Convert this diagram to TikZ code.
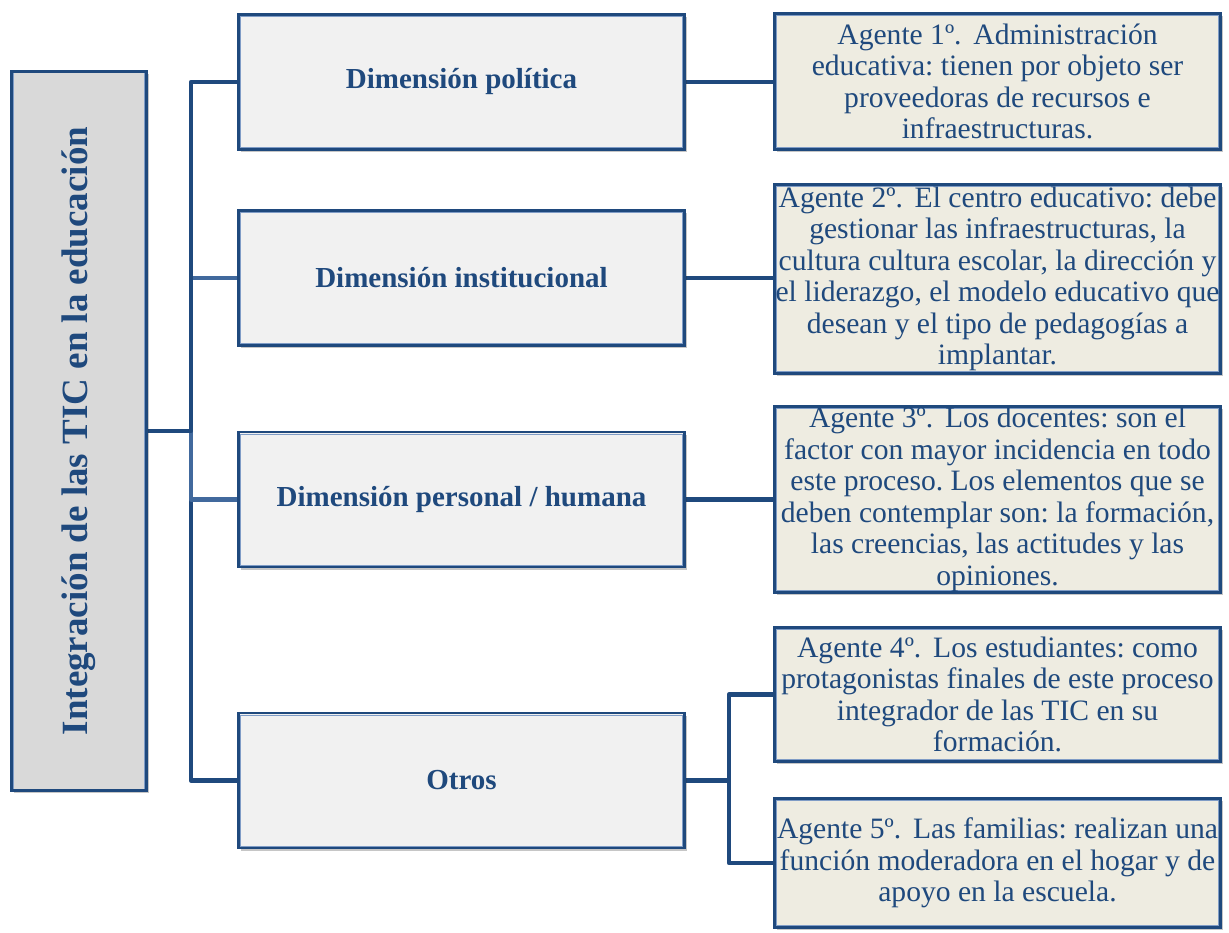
\documentclass[tikz,border=0pt]{standalone}
\usepackage{fontspec}
\setmainfont{Liberation Serif}
\usetikzlibrary{shadows}
\definecolor{dkblue}{HTML}{1F497D}
\definecolor{midblue}{HTML}{41699D}
\definecolor{innerline}{HTML}{7F9CC6}
\definecolor{rootfill}{HTML}{D9D9D9}
\definecolor{dimfill}{HTML}{F1F1F1}
\definecolor{agentfill}{HTML}{EEECE1}
\pgfdeclarelayer{bg}
\pgfsetlayers{bg,main}
\frenchspacing
\newcommand{\ordgap}{\hspace{0.4em}}
\begin{document}
\begin{tikzpicture}[x=1pt,y=-1pt,
  box/.style={draw=dkblue, line width=2.6pt, inner sep=0pt, text=dkblue,
    drop shadow={shadow xshift=2pt, shadow yshift=-2.5pt, opacity=0.28, fill=black!80},
    path picture={\draw[innerline, line width=0.9pt]
      ([shift={(2pt,-2pt)}]path picture bounding box.north west) rectangle
      ([shift={(-2pt,2pt)}]path picture bounding box.south east);}},
  rootbox/.style={box, fill=rootfill, minimum width=719pt, minimum height=135pt,
    font=\bfseries\fontsize{37}{40}\selectfont},
  dimbox/.style={box, fill=dimfill, minimum width=446pt, minimum height=135pt,
    font=\bfseries\fontsize{29}{32}\selectfont},
  agentbox/.style={box, fill=agentfill, minimum width=446pt,
    align=center, font=\fontsize{29.6}{31.5}\selectfont},
  conn/.style={draw=dkblue, line width=4.5pt, line join=round},
  connlt/.style={conn, draw=midblue}]

\useasboundingbox (0,0) rectangle (1229,933);

% root, rotated so that its text reads upwards
\node[rootbox, rotate=90] (root) at (79,431) {Integración de las TIC en la educación};

% dimensions
\node[dimbox] (d1) at (461.5,82) {Dimensión política};
\node[dimbox] (d2) at (461.5,278) {Dimensión institucional};
\node[dimbox] (d3) at (461.5,499.5) {Dimensión personal / humana};
\node[dimbox] (d4) at (461.5,780.5) {Otros};

% agents
\node[agentbox, minimum height=136pt] (a1) at (997.5,81.5)
  {Agente 1º.\ordgap Administración\\educativa: tienen por objeto ser\\proveedoras de recursos e\\infraestructuras.};
\node[agentbox, minimum height=189pt] (a2) at (997.5,279)
  {Agente 2º.\ordgap El centro educativo: debe\\gestionar las infraestructuras, la\\cultura cultura escolar, la dirección y\\el liderazgo, el modelo educativo que\\desean y el tipo de pedagogías a\\implantar.};
\node[agentbox, minimum height=186pt] (a3) at (997.5,499.5)
  {Agente 3º.\ordgap Los docentes: son el\\factor con mayor incidencia en todo\\este proceso. Los elementos que se\\deben contemplar son: la formación,\\las creencias, las actitudes y las\\opiniones.};
\node[agentbox, minimum height=134pt] (a4) at (997.5,694.5)
  {Agente 4º.\ordgap Los estudiantes: como\\protagonistas finales de este proceso\\integrador de las TIC en su\\formación.};
\node[agentbox, minimum height=129pt] (a5) at (997.5,863)
  {Agente 5º.\ordgap Las familias: realizan una\\función moderadora en el hogar y de\\apoyo en la escuela.};

% connectors (the root's south side faces right after rotation)
\coordinate (tk) at (191,431);
\coordinate (tk2) at (729,780);
\begin{pgfonlayer}{bg}
  \draw[conn] (root.south) -- (root.south -| tk) |- (d4.west);
  \draw[connlt] (root.south -| tk) |- (d3.west);
  \draw[connlt] (root.south -| tk) |- (d2.west);
  \draw[conn] (root.south) -- (root.south -| tk) |- (d1.west);
  \draw[conn] (d1.east) -- (d1.east -| a1.west);
  \draw[conn] (d2.east) -- (d2.east -| a2.west);
  \draw[conn] (d3.east) -- (d3.east -| a3.west);
  \draw[conn] (d4.east) -- (d4.east -| tk2) |- (a4.west);
  \draw[conn] (d4.east -| tk2) |- (a5.west);
\end{pgfonlayer}
\end{tikzpicture}
\end{document}
